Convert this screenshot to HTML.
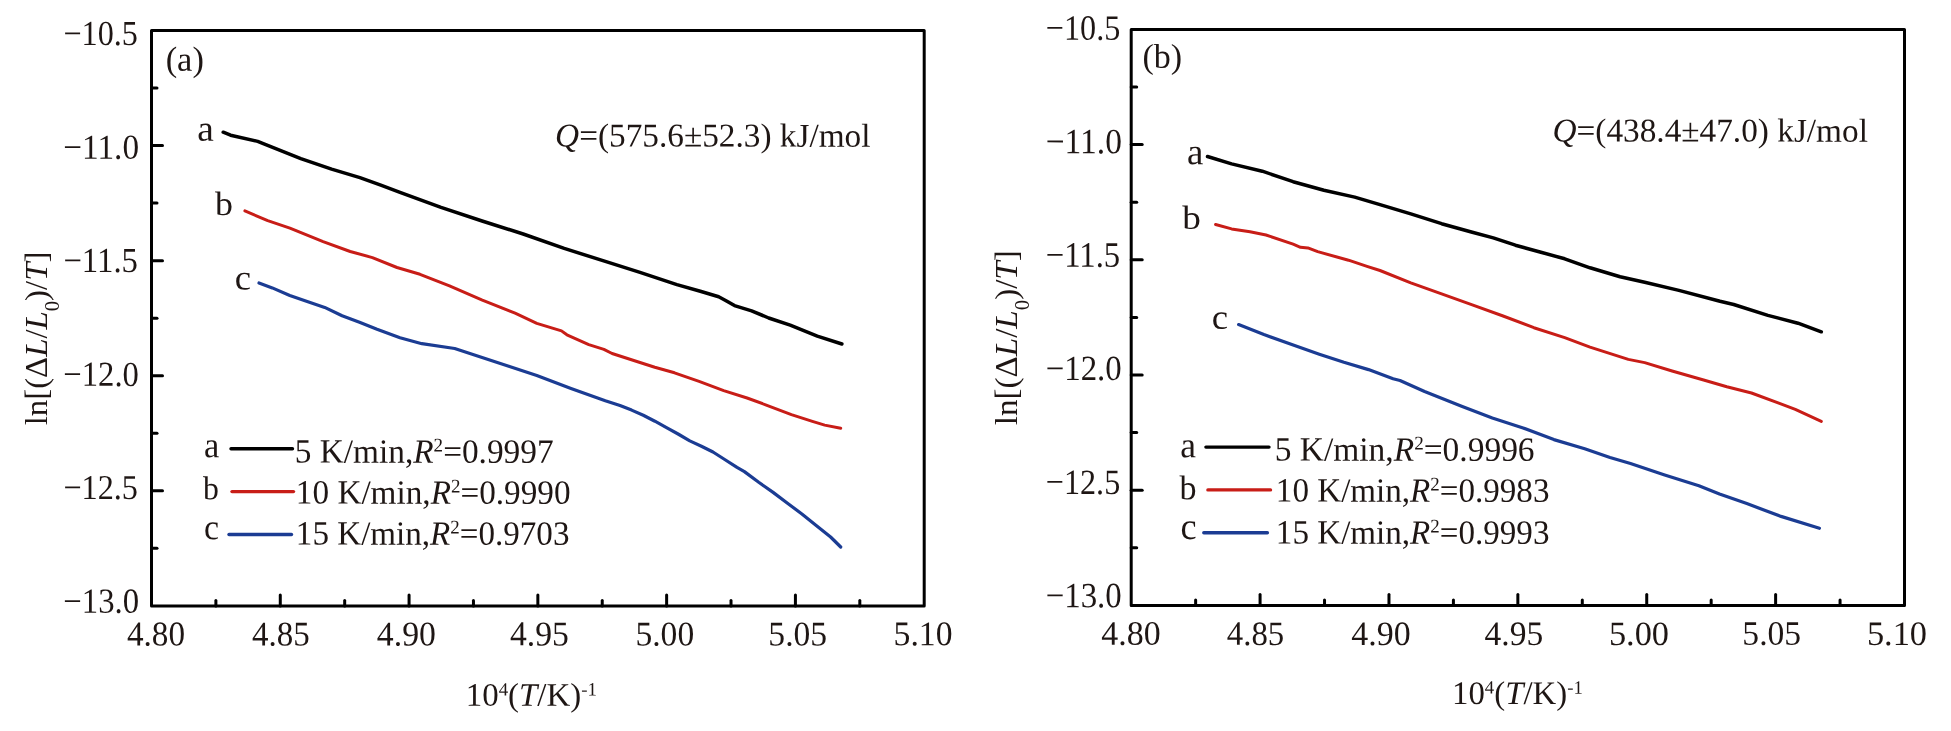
<!DOCTYPE html>
<html><head><meta charset="utf-8"><style>
html,body{margin:0;padding:0;background:#fff;width:1951px;height:731px;overflow:hidden}
svg{display:block;will-change:transform}
text{font-family:"Liberation Serif",serif;font-size:35px;fill:#1e1614}
</style></head><body>
<svg width="1951" height="731" viewBox="0 0 1951 731">
<rect width="1951" height="731" fill="#fff"/>
<g stroke="#000" stroke-width="3" stroke-linecap="butt">
<rect x="151.5" y="30.5" width="772.70" height="575.40" fill="none" stroke="#000" stroke-width="3" stroke-linejoin="round"/>
<line x1="151.5" y1="88.04" x2="157.0" y2="88.04" stroke-linecap="round"/>
<line x1="151.5" y1="145.58" x2="162.5" y2="145.58" stroke-linecap="round"/>
<line x1="151.5" y1="203.12" x2="157.0" y2="203.12" stroke-linecap="round"/>
<line x1="151.5" y1="260.66" x2="162.5" y2="260.66" stroke-linecap="round"/>
<line x1="151.5" y1="318.20" x2="157.0" y2="318.20" stroke-linecap="round"/>
<line x1="151.5" y1="375.74" x2="162.5" y2="375.74" stroke-linecap="round"/>
<line x1="151.5" y1="433.28" x2="157.0" y2="433.28" stroke-linecap="round"/>
<line x1="151.5" y1="490.82" x2="162.5" y2="490.82" stroke-linecap="round"/>
<line x1="151.5" y1="548.36" x2="157.0" y2="548.36" stroke-linecap="round"/>
<line x1="215.89" y1="605.9" x2="215.89" y2="600.4" stroke-linecap="round"/>
<line x1="280.28" y1="605.9" x2="280.28" y2="594.9" stroke-linecap="round"/>
<line x1="344.68" y1="605.9" x2="344.68" y2="600.4" stroke-linecap="round"/>
<line x1="409.07" y1="605.9" x2="409.07" y2="594.9" stroke-linecap="round"/>
<line x1="473.46" y1="605.9" x2="473.46" y2="600.4" stroke-linecap="round"/>
<line x1="537.85" y1="605.9" x2="537.85" y2="594.9" stroke-linecap="round"/>
<line x1="602.24" y1="605.9" x2="602.24" y2="600.4" stroke-linecap="round"/>
<line x1="666.63" y1="605.9" x2="666.63" y2="594.9" stroke-linecap="round"/>
<line x1="731.02" y1="605.9" x2="731.02" y2="600.4" stroke-linecap="round"/>
<line x1="795.42" y1="605.9" x2="795.42" y2="594.9" stroke-linecap="round"/>
<line x1="859.81" y1="605.9" x2="859.81" y2="600.4" stroke-linecap="round"/>
<rect x="1131.2" y="29.4" width="773.30" height="576.00" fill="none" stroke="#000" stroke-width="3" stroke-linejoin="round"/>
<line x1="1131.2" y1="87.00" x2="1136.7" y2="87.00" stroke-linecap="round"/>
<line x1="1131.2" y1="144.60" x2="1142.2" y2="144.60" stroke-linecap="round"/>
<line x1="1131.2" y1="202.20" x2="1136.7" y2="202.20" stroke-linecap="round"/>
<line x1="1131.2" y1="259.80" x2="1142.2" y2="259.80" stroke-linecap="round"/>
<line x1="1131.2" y1="317.40" x2="1136.7" y2="317.40" stroke-linecap="round"/>
<line x1="1131.2" y1="375.00" x2="1142.2" y2="375.00" stroke-linecap="round"/>
<line x1="1131.2" y1="432.60" x2="1136.7" y2="432.60" stroke-linecap="round"/>
<line x1="1131.2" y1="490.20" x2="1142.2" y2="490.20" stroke-linecap="round"/>
<line x1="1131.2" y1="547.80" x2="1136.7" y2="547.80" stroke-linecap="round"/>
<line x1="1195.64" y1="605.4" x2="1195.64" y2="599.9" stroke-linecap="round"/>
<line x1="1260.08" y1="605.4" x2="1260.08" y2="594.4" stroke-linecap="round"/>
<line x1="1324.53" y1="605.4" x2="1324.53" y2="599.9" stroke-linecap="round"/>
<line x1="1388.97" y1="605.4" x2="1388.97" y2="594.4" stroke-linecap="round"/>
<line x1="1453.41" y1="605.4" x2="1453.41" y2="599.9" stroke-linecap="round"/>
<line x1="1517.85" y1="605.4" x2="1517.85" y2="594.4" stroke-linecap="round"/>
<line x1="1582.29" y1="605.4" x2="1582.29" y2="599.9" stroke-linecap="round"/>
<line x1="1646.73" y1="605.4" x2="1646.73" y2="594.4" stroke-linecap="round"/>
<line x1="1711.17" y1="605.4" x2="1711.17" y2="599.9" stroke-linecap="round"/>
<line x1="1775.62" y1="605.4" x2="1775.62" y2="594.4" stroke-linecap="round"/>
<line x1="1840.06" y1="605.4" x2="1840.06" y2="599.9" stroke-linecap="round"/>
</g>
<g fill="none" stroke-width="3.3" stroke-linejoin="round" stroke-linecap="round">
<path d="M223.2,132.2 L230.6,135.2 L257.7,141.4 L263.9,143.9 L300.8,158.6 L331.6,169.1 L359.9,177.7 L380.8,185.1 L400.0,192.3 L441.0,207.4 L482.1,221.0 L523.2,234.0 L564.2,248.4 L605.3,261.4 L640.0,272.3 L676.9,284.6 L700.3,291.3 L718.7,296.8 L725.6,300.5 L734.5,305.6 L751.6,310.8 L768.7,318.0 L790.2,325.2 L817.3,336.1 L841.9,344.0" stroke="#000000" stroke-width="3.5"/>
<path d="M244.9,210.9 L267.7,220.7 L289.9,228.1 L317.0,239.2 L323.1,241.6 L350.2,251.5 L372.4,257.6 L397.0,267.5 L420.0,274.3 L434.1,279.9 L449.5,285.8 L482.3,300.1 L515.1,313.2 L536.8,323.4 L561.5,330.9 L566.9,334.8 L588.8,344.6 L603.9,349.4 L612.1,353.5 L640.0,362.5 L654.8,367.2 L674.5,372.8 L699.1,381.4 L723.7,390.6 L747.1,398.0 L765.6,404.8 L791.4,414.6 L812.4,421.4 L824.7,425.1 L840.7,428.2" stroke="#c81d17" stroke-width="3.0"/>
<path d="M259.0,283.0 L272.3,287.9 L289.8,295.5 L307.2,301.6 L324.7,307.4 L342.1,315.8 L359.5,322.2 L377.0,329.2 L400.0,337.8 L421.9,343.7 L454.7,348.5 L482.1,357.6 L509.5,366.5 L536.8,375.4 L571.0,388.4 L605.3,400.7 L620.0,405.5 L631.6,410.1 L643.3,415.3 L654.9,421.2 L666.5,427.6 L678.1,434.0 L689.8,440.9 L701.4,446.2 L713.0,452.0 L724.7,459.5 L737.0,467.4 L744.4,471.6 L758.7,482.3 L773.1,492.4 L787.5,503.2 L801.9,514.0 L816.2,525.5 L830.6,537.0 L840.7,547.0" stroke="#1b3c93" stroke-width="3.2"/>
<path d="M1207.5,156.5 L1231.6,163.9 L1262.3,171.2 L1293.1,181.7 L1323.9,190.3 L1354.7,197.1 L1380.0,204.6 L1410.8,213.9 L1441.6,223.7 L1472.3,232.3 L1493.3,237.9 L1515.4,245.2 L1540.0,252.0 L1564.7,258.8 L1590.0,267.8 L1620.1,276.7 L1644.7,282.2 L1678.9,290.4 L1720.0,301.3 L1733.7,304.5 L1767.9,315.4 L1798.0,323.2 L1821.3,331.8" stroke="#000000" stroke-width="3.5"/>
<path d="M1215.6,224.5 L1231.6,228.9 L1250.0,231.7 L1266.0,235.0 L1293.1,244.2 L1300.5,247.3 L1307.9,247.9 L1317.7,251.6 L1348.5,260.2 L1367.0,266.4 L1380.0,270.5 L1410.8,282.8 L1441.6,293.9 L1472.3,304.9 L1503.1,316.0 L1533.9,327.7 L1564.7,337.6 L1590.0,347.1 L1628.3,359.4 L1644.7,362.6 L1672.1,371.0 L1703.6,380.0 L1726.8,386.8 L1751.5,393.0 L1778.8,403.2 L1795.3,409.4 L1821.3,421.4" stroke="#c81d17" stroke-width="3.0"/>
<path d="M1238.6,324.6 L1263.9,334.5 L1294.6,345.6 L1319.3,354.2 L1343.9,362.2 L1368.5,369.6 L1393.1,378.8 L1400.0,380.5 L1424.6,391.5 L1461.6,406.3 L1492.3,418.0 L1523.1,427.9 L1553.9,439.6 L1584.7,448.8 L1610.0,457.5 L1630.5,463.5 L1664.7,474.9 L1698.9,485.8 L1719.5,494.0 L1746.8,503.6 L1781.0,516.4 L1819.4,528.3" stroke="#1b3c93" stroke-width="3.2"/>
<line x1="231" y1="448.8" x2="292.5" y2="448.8" stroke="#000000" stroke-width="3.4"/>
<line x1="232" y1="491.6" x2="293.5" y2="491.6" stroke="#c81d17" stroke-width="3.4"/>
<line x1="229" y1="534.5" x2="291.5" y2="534.5" stroke="#1b3c93" stroke-width="3.4"/>
<line x1="1205.9" y1="447.1" x2="1269.0" y2="447.1" stroke="#000000" stroke-width="3.4"/>
<line x1="1207.9" y1="489.9" x2="1270.5" y2="489.9" stroke="#c81d17" stroke-width="3.4"/>
<line x1="1203.8" y1="532.7" x2="1267.4" y2="532.7" stroke="#1b3c93" stroke-width="3.4"/>
</g>
<text transform="translate(63.40,45.09) scale(0.9205,1.0025) skewY(0.03)">−10.5</text>
<text transform="translate(63.32,158.82) scale(0.9502,1.0012) skewY(0.03)">−11.0</text>
<text transform="translate(63.40,272.05) scale(0.9354,1.0031) skewY(0.03)">−11.5</text>
<text transform="translate(63.34,385.85) scale(0.9335,1.0042) skewY(0.03)">−12.0</text>
<text transform="translate(63.39,499.08) scale(0.9203,0.9984) skewY(0.03)">−12.5</text>
<text transform="translate(63.34,612.83) scale(0.9357,1.0070) skewY(0.03)">−13.0</text>
<text transform="translate(1045.81,39.71) scale(0.9197,1.0174) skewY(0.03)">−10.5</text>
<text transform="translate(1045.69,153.20) scale(0.9562,1.0131) skewY(0.03)">−11.0</text>
<text transform="translate(1045.77,266.78) scale(0.9346,1.0241) skewY(0.03)">−11.5</text>
<text transform="translate(1045.68,380.07) scale(0.9398,1.0103) skewY(0.03)">−12.0</text>
<text transform="translate(1045.81,493.87) scale(0.9191,1.0183) skewY(0.03)">−12.5</text>
<text transform="translate(1045.68,607.24) scale(0.9400,1.0162) skewY(0.03)">−13.0</text>
<text transform="translate(126.92,645.38) scale(0.9491,0.9948) skewY(0.03)">4.80</text>
<text transform="translate(251.99,645.43) scale(0.9420,0.9904) skewY(0.03)">4.85</text>
<text transform="translate(376.87,645.44) scale(0.9656,0.9934) skewY(0.03)">4.90</text>
<text transform="translate(509.93,645.37) scale(0.9608,0.9934) skewY(0.03)">4.95</text>
<text transform="translate(635.43,645.43) scale(0.9592,0.9903) skewY(0.03)">5.00</text>
<text transform="translate(768.35,645.44) scale(0.9596,0.9901) skewY(0.03)">5.05</text>
<text transform="translate(893.61,645.35) scale(0.9624,0.9887) skewY(0.03)">5.10</text>
<text transform="translate(1101.24,644.83) scale(0.9695,0.9782) skewY(0.03)">4.80</text>
<text transform="translate(1226.78,644.87) scale(0.9377,0.9740) skewY(0.03)">4.85</text>
<text transform="translate(1351.25,644.92) scale(0.9697,0.9760) skewY(0.03)">4.90</text>
<text transform="translate(1484.53,644.90) scale(0.9571,0.9779) skewY(0.03)">4.95</text>
<text transform="translate(1608.89,644.90) scale(0.9827,0.9725) skewY(0.03)">5.00</text>
<text transform="translate(1742.35,644.84) scale(0.9609,0.9773) skewY(0.03)">5.05</text>
<text transform="translate(1866.89,644.89) scale(0.9824,0.9789) skewY(0.03)">5.10</text>
<text transform="translate(465.67,705.80) scale(0.9422,0.9400) skewY(0.03)">10<tspan font-size="20" dy="-11">4</tspan><tspan dy="11">(</tspan><tspan font-style="italic">T</tspan>/K)<tspan font-size="20" dy="-11">-1</tspan></text>
<text transform="translate(1451.98,703.90) scale(0.9385,0.9400) skewY(0.03)">10<tspan font-size="20" dy="-11">4</tspan><tspan dy="11">(</tspan><tspan font-style="italic">T</tspan>/K)<tspan font-size="20" dy="-11">-1</tspan></text>
<text transform="translate(555.10,146.50) scale(0.9514,0.9500) skewY(0.03)"><tspan font-style="italic">Q</tspan>=(575.6±52.3) kJ/mol</text>
<text transform="translate(1552.50,141.50) scale(0.9514,0.9500) skewY(0.03)"><tspan font-style="italic">Q</tspan>=(438.4±47.0) kJ/mol</text>
<text transform="translate(165.65,70.63) scale(0.9839,0.9962) skewY(0.03)">(a)</text>
<text transform="translate(1142.41,67.80) scale(0.9726,0.9826) skewY(0.03)">(b)</text>
<text transform="translate(197.21,140.64) scale(1.0659,1.0489) skewY(0.03)">a</text>
<text transform="translate(215.03,215.08) scale(1.0248,0.9637) skewY(0.03)">b</text>
<text transform="translate(234.85,289.48) scale(1.0483,1.0206) skewY(0.03)">c</text>
<text transform="translate(1187.07,164.18) scale(1.0539,1.0735) skewY(0.03)">a</text>
<text transform="translate(1182.36,228.67) scale(1.0627,0.9549) skewY(0.03)">b</text>
<text transform="translate(1211.83,328.67) scale(1.0501,0.9952) skewY(0.03)">c</text>
<text transform="translate(204.04,457.23) scale(0.9832,1.0432) skewY(0.03)">a</text>
<text transform="translate(203.09,499.19) scale(0.9070,0.9440) skewY(0.03)">b</text>
<text transform="translate(204.04,539.28) scale(0.9668,1.0331) skewY(0.03)">c</text>
<text transform="translate(1180.37,457.30) scale(1.0127,1.0375) skewY(0.03)">a</text>
<text transform="translate(1179.47,499.17) scale(0.9727,0.9822) skewY(0.03)">b</text>
<text transform="translate(1180.40,539.09) scale(1.0358,1.0782) skewY(0.03)">c</text>
<text transform="translate(294.69,462.60) scale(0.9528,0.9700) skewY(0.03)">5 K/min,<tspan font-style="italic">R</tspan><tspan font-size="20" dy="-11.5">2</tspan><tspan dy="11.5">=0.9997</tspan></text>
<text transform="translate(295.85,503.60) scale(0.9495,0.9700) skewY(0.03)">10 K/min,<tspan font-style="italic">R</tspan><tspan font-size="20" dy="-11.5">2</tspan><tspan dy="11.5">=0.9990</tspan></text>
<text transform="translate(295.86,544.60) scale(0.9460,0.9700) skewY(0.03)">15 K/min,<tspan font-style="italic">R</tspan><tspan font-size="20" dy="-11.5">2</tspan><tspan dy="11.5">=0.9703</tspan></text>
<text transform="translate(1274.69,460.60) scale(0.9565,0.9700) skewY(0.03)">5 K/min,<tspan font-style="italic">R</tspan><tspan font-size="20" dy="-11.5">2</tspan><tspan dy="11.5">=0.9996</tspan></text>
<text transform="translate(1275.86,501.60) scale(0.9460,0.9700) skewY(0.03)">10 K/min,<tspan font-style="italic">R</tspan><tspan font-size="20" dy="-11.5">2</tspan><tspan dy="11.5">=0.9983</tspan></text>
<text transform="translate(1275.86,543.60) scale(0.9460,0.9700) skewY(0.03)">15 K/min,<tspan font-style="italic">R</tspan><tspan font-size="20" dy="-11.5">2</tspan><tspan dy="11.5">=0.9993</tspan></text>
<text transform="translate(47.10,425.24) rotate(-90) scale(0.9374,0.93)">ln[(<tspan>Δ</tspan><tspan font-style="italic">L</tspan>/<tspan font-style="italic">L</tspan><tspan font-size="22" dy="13">0</tspan><tspan dy="-13">)/</tspan><tspan font-style="italic">T</tspan>]</text>
<text transform="translate(1017.10,425.25) rotate(-90) scale(0.9451,0.93)">ln[(<tspan>Δ</tspan><tspan font-style="italic">L</tspan>/<tspan font-style="italic">L</tspan><tspan font-size="22" dy="13">0</tspan><tspan dy="-13">)/</tspan><tspan font-style="italic">T</tspan>]</text>
</svg>
</body></html>
